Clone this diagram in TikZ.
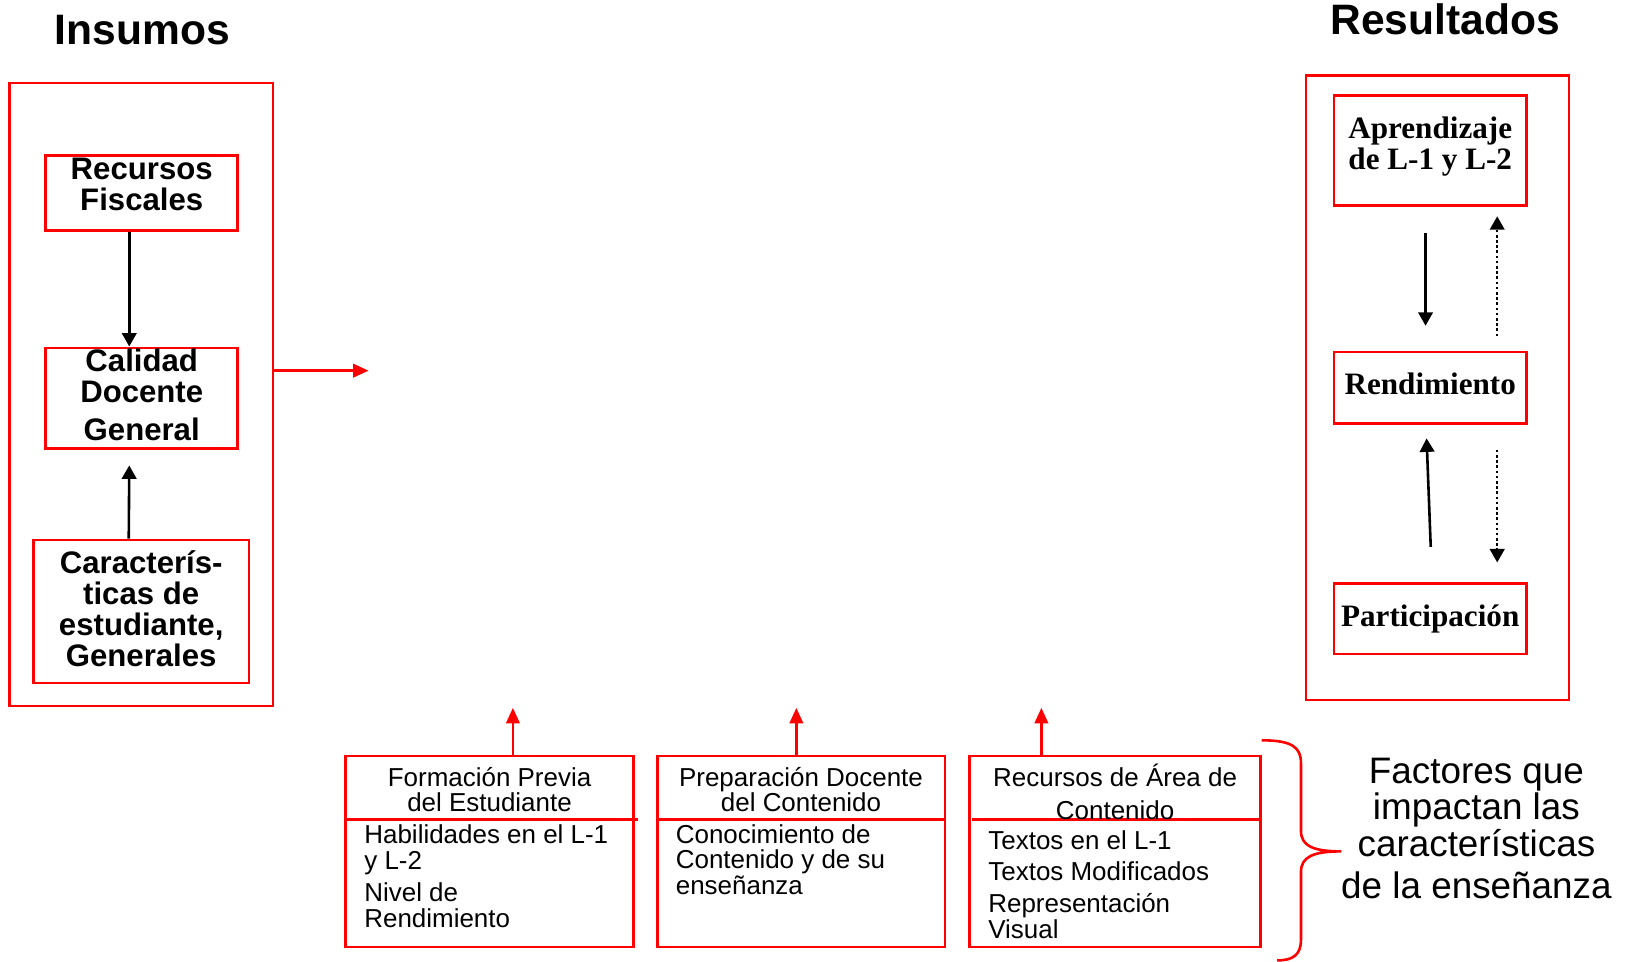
\documentclass[tikz,border=0pt]{standalone}
\usepackage{fontspec}
\setmainfont{Liberation Sans}
\newfontfamily\garamond{Liberation Serif}
\usepackage{tikz}
\usetikzlibrary{arrows.meta}

\begin{document}
\begin{tikzpicture}[x=1pt, y=-1pt,
    marco/.style={draw=red, line width=2.5pt, inner sep=0pt},
    caja/.style={draw=red, line width=2.5pt, inner sep=0pt, align=center,
      minimum width=185pt, font=\fontsize{30}{30}\selectfont\bfseries},
    cajaR/.style={caja, font=\fontsize{30}{30}\selectfont\garamond\bfseries},
    titulo/.style={anchor=base, inner sep=0pt, font=\fontsize{41}{41}\selectfont\bfseries},
    cabecera/.style={anchor=north, inner sep=0pt, align=center,
      font=\fontsize{25}{24}\selectfont},
    cuerpo/.style={anchor=north west, inner sep=0pt, align=left,
      font=\fontsize{25}{25}\selectfont},
    linea/.style={draw=red, line width=2.5pt},
    flecha/.style={line width=2.5pt, -{Triangle[length=13pt,width=14pt]}},
    punteada/.style={flecha, dash pattern=on 2.5pt off 2.5pt},
    flechaRoja/.style={red, line width=2.5pt, -{Triangle[length=15pt,width=13pt]}}]
      \useasboundingbox (0,0) rectangle (1568,926);
      % titulos
      \node[titulo] (tInsumos) at (137,42.4) {Insumos};
      \node[titulo] (tResultados) at (1392,33.7) {Resultados};
      % insumos
      \node[marco, minimum width=254pt, minimum height=600pt] (insumos) at (136,380) {};
      \node[caja, text height=53pt, text depth=19pt] (recursos) at (136.5,186) {Recursos\\Fiscales};
      \node[caja, text height=89pt, text depth=8pt] (calidad) at (136.5,383.5) {Calidad\\Docente\\[6pt]General};
      \node[caja, minimum width=208pt, text height=122pt, text depth=16pt] (caract) at (136,589) {Caracterís-\\ticas de\\estudiante,\\Generales};
      \draw[flecha] ([xshift=-12pt]recursos.south) -- ([xshift=-12pt]calidad.north);
      \draw[flecha] ([xshift=-12pt]caract.north) -- ([xshift=-12pt,yshift=-15pt]calidad.south);
      \coordinate (centro) at (355,357);
      \draw[flechaRoja] (insumos.east |- centro) -- (centro);
      % resultados
      \node[marco, minimum width=253pt, minimum height=601pt] (resultados) at (1384.5,373.5) {};
      \node[cajaR, text height=71pt, text depth=35pt] (aprend) at (1377.5,145) {Aprendizaje\\de L-1 y L-2};
      \node[cajaR, text height=41pt, text depth=28pt] (rend) at (1377.5,373.5) {Rendimiento};
      \node[cajaR, text height=41pt, text depth=27pt] (partic) at (1377.5,596) {Participación};
      \draw[flecha] ([xshift=-4.5pt,yshift=-25pt]aprend.south) -- ([xshift=-4.5pt,yshift=24pt]rend.north);
      \draw[punteada] ([xshift=64.5pt,yshift=14pt]rend.north) -- ([xshift=64.5pt,yshift=-9pt]aprend.south);
      \draw[flecha] ([xshift=0.5pt,yshift=34pt]partic.north) -- ([xshift=-3.5pt,yshift=-13pt]rend.south);
      \draw[punteada] ([xshift=64.5pt,yshift=-24pt]rend.south) -- ([xshift=64.5pt,yshift=19pt]partic.north);
      % factores
      \node[marco, minimum width=277pt, minimum height=184pt] (formacion) at (471.5,820) {};
      \node[marco, minimum width=277pt, minimum height=184pt] (preparacion) at (771.5,820) {};
      \node[marco, minimum width=280pt, minimum height=184pt] (recArea) at (1074,820) {};
      \draw[linea] ([yshift=31pt]formacion.west) -- ([yshift=31pt,xshift=3pt]formacion.east);
      \draw[linea] ([yshift=31pt]preparacion.west) -- ([yshift=31pt]preparacion.east);
      \draw[linea] ([yshift=31pt,xshift=3pt]recArea.west) -- ([yshift=31pt]recArea.east);
      \node[cabecera, text height=55pt] (tFormacion) at (formacion.north) {Formación Previa\\del Estudiante};
      \node[cabecera, text height=55pt] (tPreparacion) at (preparacion.north) {Preparación Docente\\del Contenido};
      \node[cabecera, text height=62pt] (tRecArea) at (recArea.north) {Recursos de Área de\\[7pt]Contenido};
      \node[cuerpo, text height=104pt] (lFormacion) at ([xshift=19pt,yshift=31pt]formacion.west)
        {Habilidades en el L-1\\y L-2\\[6pt]Nivel de\\Rendimiento};
      \node[cuerpo, text height=72pt] (lPreparacion) at ([xshift=19pt,yshift=31pt]preparacion.west)
        {Conocimiento de\\[-0.5pt]Contenido y de su\\[-0.5pt]enseñanza};
      \node[cuerpo, text height=115pt] (lRecArea) at ([xshift=19pt,yshift=31pt]recArea.west)
        {Textos en el L-1\\[5pt]Textos Modificados\\[6pt]Representación\\Visual};
      \draw[flechaRoja] ([xshift=22.5pt]formacion.north) -- ([xshift=22.5pt,yshift=45pt]formacion.north);
      \draw[flechaRoja] ([xshift=-4.5pt]preparacion.north) -- ([xshift=-4.5pt,yshift=45pt]preparacion.north);
      \draw[flechaRoja] ([xshift=-71pt]recArea.north) -- ([xshift=-71pt,yshift=45pt]recArea.north);
      % llave
      \draw[linea] (1215,713) .. controls (1245,713) and (1253,720) .. (1253,735) -- (1253,800)
        .. controls (1253,815) and (1265,820) .. (1292,820)
        .. controls (1265,820) and (1253,825) .. (1253,840) -- (1253,905)
        .. controls (1253,920) and (1245,925) .. (1230,925);
      \node[anchor=north, inner sep=0pt, align=center, text height=137pt,
        font=\fontsize{35.5}{35}\selectfont] (factores) at (1422,728.5)
        {Factores que\\impactan las\\características\\[6pt]de la enseñanza};
    \end{tikzpicture}
\end{document}
